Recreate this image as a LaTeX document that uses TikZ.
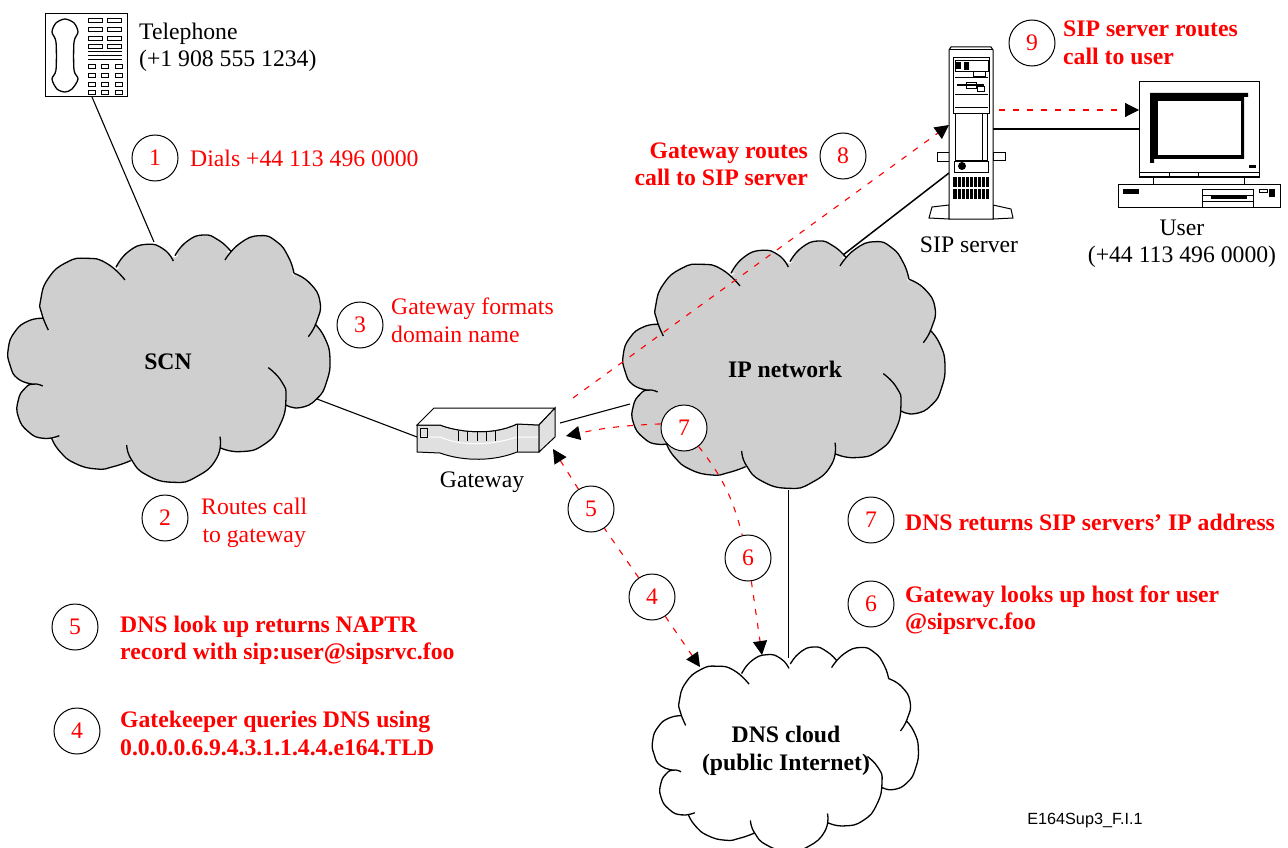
\documentclass[tikz,border=0pt]{standalone}
\usepackage{fontspec}
\setmainfont{Liberation Serif}
\newfontfamily\labelfont{Liberation Sans}
\usetikzlibrary{arrows.meta}
\definecolor{cloudgray}{gray}{0.81}
\definecolor{gatewaygray}{gray}{0.88}
\tikzset{
  cloud/.pic={
    \fill[pic actions,draw=none] (130,285) -- (200,125) -- (348,135) -- (440,70) -- (525,98) -- (610,42) -- (690,85)
      -- (780,45) -- (880,150) -- (945,230) -- (940,300) -- (975,400) -- (900,535) -- (860,545) -- (790,650)
      -- (660,668) -- (520,760) -- (392,707) -- (290,720) -- (165,640) -- (70,560) -- (100,480) -- (40,380) -- cycle;
    \draw[pic actions]
      plot[smooth,tension=.9] coordinates {(145,315) (125,265) (122,225) (145,160) (200,112) (260,100) (320,115) (375,165)}
      plot[smooth,tension=.9] coordinates {(348,127) (385,80) (440,58) (490,72) (520,108)}
      plot[smooth,tension=.9] coordinates {(525,92) (560,50) (610,30) (655,45) (692,78)}
      plot[smooth,tension=.9] coordinates {(675,105) (720,55) (780,32) (830,50) (865,95) (882,145)}
      plot[smooth,tension=.9] coordinates {(882,145) (930,175) (960,230) (950,290) (925,335)}
      plot[smooth,tension=.9] coordinates {(945,297) (975,340) (990,400) (980,470) (950,522) (900,548) (858,540)}
      plot[smooth,tension=.9] coordinates {(805,428) (845,470) (858,520) (840,600) (790,660) (720,680) (660,668)}
      plot[smooth,tension=.9] coordinates {(660,635) (650,700) (590,755) (520,772) (440,750) (395,705) (380,660)}
      plot[smooth,tension=.9] coordinates {(392,707) (340,725) (290,732) (225,715) (180,680) (155,640)}
      plot[smooth,tension=.9] coordinates {(178,632) (130,640) (85,620) (55,575) (55,525) (75,490) (100,477) (128,483)}
      plot[smooth,tension=.9] coordinates {(105,478) (55,462) (30,420) (25,370) (45,320) (85,288) (130,280)};
  }
}
\begin{document}
\begin{tikzpicture}[
    x=1pt,y=-1pt,
    every node/.style={font=\fontsize{23.7}{27.5}\selectfont,inner sep=0pt},
    wire/.style={line width=1.1pt},
    wirethick/.style={line width=1.5pt},
    icon/.style={line width=1pt,fill=white},
    callnum/.style={circle,draw=black,fill=white,line width=1pt,minimum size=46pt,text=red},
    redtext/.style={text=red,align=left,anchor=west},
    boldtext/.style={text=red,font=\fontsize{23.7}{27.5}\selectfont\bfseries,align=left,anchor=west},
    flow/.style={draw=red,line width=1.1pt,dash pattern=on 6pt off 8pt,
      -{Triangle[length=14pt,width=14pt,color=black,fill=black]}},
    flowplain/.style={draw=red,line width=1.1pt,dash pattern=on 6pt off 8pt}
  ]
  \useasboundingbox (0,0) rectangle (1288,848);

  \coordinate (telout) at (92,97);
  \coordinate (scntop) at (154,242);
  \coordinate (scnright) at (317,399);
  \coordinate (gwleft) at (417,437);
  \coordinate (gwright) at (560,423);
  \coordinate (ipleft) at (630,404);
  \coordinate (iptop) at (843,255);
  \coordinate (srvleft) at (949,173);
  \coordinate (srvright) at (993,129);
  \coordinate (pcleft) at (1139,129);
  \coordinate (ipbottom) at (788.4,490);
  \coordinate (dnstop) at (788.4,658);
  \coordinate (gwflowa) at (573,398);
  \coordinate (srvflow) at (949,125);
  \coordinate (srvflowb) at (999,110);
  \coordinate (pcflow) at (1139,110);
  \coordinate (gwtipa) at (566,436);
  \coordinate (gwtipb) at (553,449);
  \coordinate (dnstipa) at (700,667);
  \coordinate (dnstipb) at (762,655);

  \draw[wire] (telout) -- (scntop);
  \draw[wire] (scnright) -- (gwleft);
  \draw[wire] (gwright) -- (ipleft);
  \draw[wirethick] (iptop) -- (srvleft);
  \draw[wire] (srvright) -- (pcleft);
  \draw[wire] (ipbottom) -- (dnstop);

  \pic[fill=cloudgray,draw=black,line width=1.3pt,shift={(0,225)},scale=0.3333] {cloud};
  \pic[fill=cloudgray,draw=black,line width=1.3pt,shift={(615,231)},scale=0.3333] {cloud};
  \pic[fill=white,draw=black,line width=1.3pt,shift={(645.8,638.7)},scale=0.2753] {cloud};

  \draw[icon] (45,14) rectangle (127,97);
  \draw[line width=1.3pt] plot[smooth cycle] coordinates {(65,19) (74,23) (78,32) (74,42) (74,70) (78,79) (72,89) (65,92) (57,89) (52,79) (56,70) (56,42) (52,32) (56,23)};
  \foreach \keyy in {18,27,36,44}
    \foreach \keyx in {88,107}
      \draw[line width=.8pt] (\keyx,\keyy) rectangle ++(14,4.5);
  \foreach \keyy in {51,55,59}
    \draw[line width=.8pt] (88,\keyy) -- (122,\keyy);
  \foreach \keyy in {64,73,82,90}
    \foreach \keyx in {88,101,115}
      \draw[line width=.8pt] (\keyx,\keyy) rectangle ++(7,4);

  \draw[line width=1pt,fill=gatewaygray] (417,425) -- (440,425) .. controls (455,431) and (490,437) .. (517,424) -- (539,425)
    -- (539,452) -- (517,452) .. controls (495,461) and (465,462) .. (440,453) -- (417,452) -- cycle;
  \draw[line width=1pt,fill=white] (417,425) -- (434,408) -- (555,408) -- (539,425) -- (517,424) .. controls (490,437) and (455,431) .. (440,425) -- cycle;
  \draw[line width=1pt,fill=gatewaygray] (539,425) -- (555,408) -- (555,437) -- (539,452) -- cycle;
  \draw[white,line width=1pt] (419,437) -- (440,437) .. controls (460,446) and (490,446) .. (517,437) -- (538,437);
  \draw[line width=1pt] (517,424) -- (517,452);
  \draw[line width=1pt] (420,428) rectangle (427,437);
  \foreach \tickx in {458,467,477,486,495}
    \draw[line width=.8pt] (\tickx,431) -- (\tickx,441);

  \draw[icon] (937,153) rectangle (949,162);
  \draw[icon] (993,153) rectangle (1005,161);
  \draw[icon] (949,205) -- (932,207) -- (929,218) -- (949,219) -- cycle;
  \draw[icon] (993,205) -- (1011,209) -- (1013,218) -- (993,219) -- cycle;
  \draw[icon] (949,219) -- (949,50) -- (951,47) -- (991,47) -- (993,50) -- (993,219) -- cycle;
  \draw[line width=.8pt] (949,49) -- (993,49);
  \draw[line width=.8pt] (953,57) rectangle (989,113);
  \draw[line width=.8pt] (955,60) rectangle (988,71);
  \fill (956,62) rectangle (961,69);
  \fill (964,62) rectangle (969,70);
  \draw[line width=.8pt] (973,71) rectangle (985,76);
  \draw[line width=.8pt] (955,77) -- (988,77);
  \draw[line width=.8pt] (955,94) -- (988,94);
  \draw[line width=1.5pt] (957,85) -- (984,85);
  \draw[line width=.8pt] (966,82) rectangle (976,88);
  \draw[line width=.8pt,fill=white] (977,86) rectangle (984,91);
  \draw[line width=.8pt] (955,107) -- (988,107);
  \draw[line width=.8pt] (955,113) rectangle (987,160);
  \draw[line width=.8pt] (982,113) -- (982,160);
  \draw[line width=.8pt] (954,161) rectangle (988,172);
  \fill (962,166) circle (4);
  \fill (953,177) rectangle (989,187);
  \fill (953,189) rectangle (989,199);
  \foreach \ventx in {957,961,...,985}
    \draw[white,line width=.4pt] (\ventx,177) -- (\ventx,199);

  \draw[icon] (1153,177) rectangle (1244,184);
  \draw[icon] (1139,82) rectangle (1259,177);
  \draw[line width=.8pt] (1139,172) -- (1259,172);
  \draw[line width=.8pt] (1169,172) -- (1169,177);
  \draw[line width=.8pt] (1198,172) -- (1198,177);
  \fill (1150,93) -- (1248,93) -- (1248,97) -- (1244,97) -- (1244,159) -- (1154,159) -- (1154,163) -- (1150,163) -- cycle;
  \fill[white] (1158,101) rectangle (1241,155);
  \fill (1249,165) rectangle (1256,168);
  \draw[icon] (1118,184) rectangle (1280,207);
  \fill (1123,189) rectangle (1139,194);
  \draw[line width=.8pt] (1202,189) rectangle (1253,207);
  \draw[line width=.8pt] (1202,195) -- (1253,195);
  \draw[line width=.8pt] (1202,201) -- (1253,201);
  \fill (1211,195) rectangle (1247,199);
  \draw[line width=.8pt] (1259,189) rectangle (1267,192);
  \fill (1269,189) rectangle (1275,197);

  \node[callnum] (numone) at (155,158) {1};
  \node[callnum] (numtwo) at (165,518) {2};
  \node[callnum] (numthree) at (360,325) {3};
  \node[callnum] (numfour) at (652,597) {4};
  \node[callnum] (numfive) at (591,509) {5};
  \node[callnum] (numsix) at (748,558) {6};
  \node[callnum] (numseven) at (684,428) {7};
  \node[callnum] (numeight) at (843,156) {8};
  \node[callnum] (numnine) at (1032,43) {9};
  \node[callnum] (keyseven) at (871,520) {7};
  \node[callnum] (keysix) at (871,604) {6};
  \node[callnum] (keyfive) at (75,627) {5};
  \node[callnum] (keyfour) at (77,731) {4};

  \draw[flow] (numfive) -- (gwtipb);
  \draw[flowplain] (numfour) -- (numfive);
  \draw[flow] (numfour) -- (dnstipa);
  \draw[flow] (numseven.170) to[bend right=5] (gwtipa);
  \draw[flowplain] (numseven) to[bend left=12] (numsix);
  \draw[flow] (numsix) -- (dnstipb);
  \draw[flow] (gwflowa) -- (srvflow);
  \draw[flow] (srvflowb) -- (pcflow);

  \node[anchor=west,align=left] (telname) at (139,47.5) {Telephone\\(+1 908 555 1234)};
  \node (gwname) at (482,482) {Gateway};
  \node (srvname) at (969,245) {SIP server};
  \node[align=center] (pcname) at (1182,244) {User\\(+44 113 496 0000)};
  \node[font=\fontsize{23.7}{27.5}\selectfont\bfseries] (scnname) at (168,362) {SCN};
  \node[font=\fontsize{23.7}{27.5}\selectfont\bfseries] (ipname) at (785,369) {IP network};
  \node[font=\fontsize{23.7}{27.5}\selectfont\bfseries,align=center] (dnsname) at (786,751) {DNS cloud\\(public Internet)};

  \node[redtext] (stepone) at (190,158) {Dials +44 113 496 0000};
  \node[redtext,align=center] (steptwo) at (201,523) {Routes call\\to gateway};
  \node[redtext] (stepthree) at (391,320.5) {Gateway formats\\domain name};
  \node[boldtext,align=right,anchor=east] (stepeight) at (808,164.5) {Gateway routes\\call to SIP server};
  \node[boldtext] (stepnine) at (1063,43) {SIP server routes\\call to user};
  \node[boldtext] (stepseven) at (905,522) {DNS returns SIP servers’ IP address};
  \node[boldtext] (stepsix) at (905,610) {Gateway looks up host for user\\@sipsrvc.foo};
  \node[boldtext] (stepfive) at (120,640.5) {DNS look up returns NAPTR\\record with sip:user@sipsrvc.foo};
  \node[boldtext] (stepfour) at (120,733.5) {Gatekeeper queries DNS using\\0.0.0.0.6.9.4.3.1.1.4.4.e164.TLD};

  \node[font=\labelfont\fontsize{16.2}{18}\selectfont] (figref) at (1085,821) {E164Sup3\_F.I.1};
\end{tikzpicture}
\end{document}
